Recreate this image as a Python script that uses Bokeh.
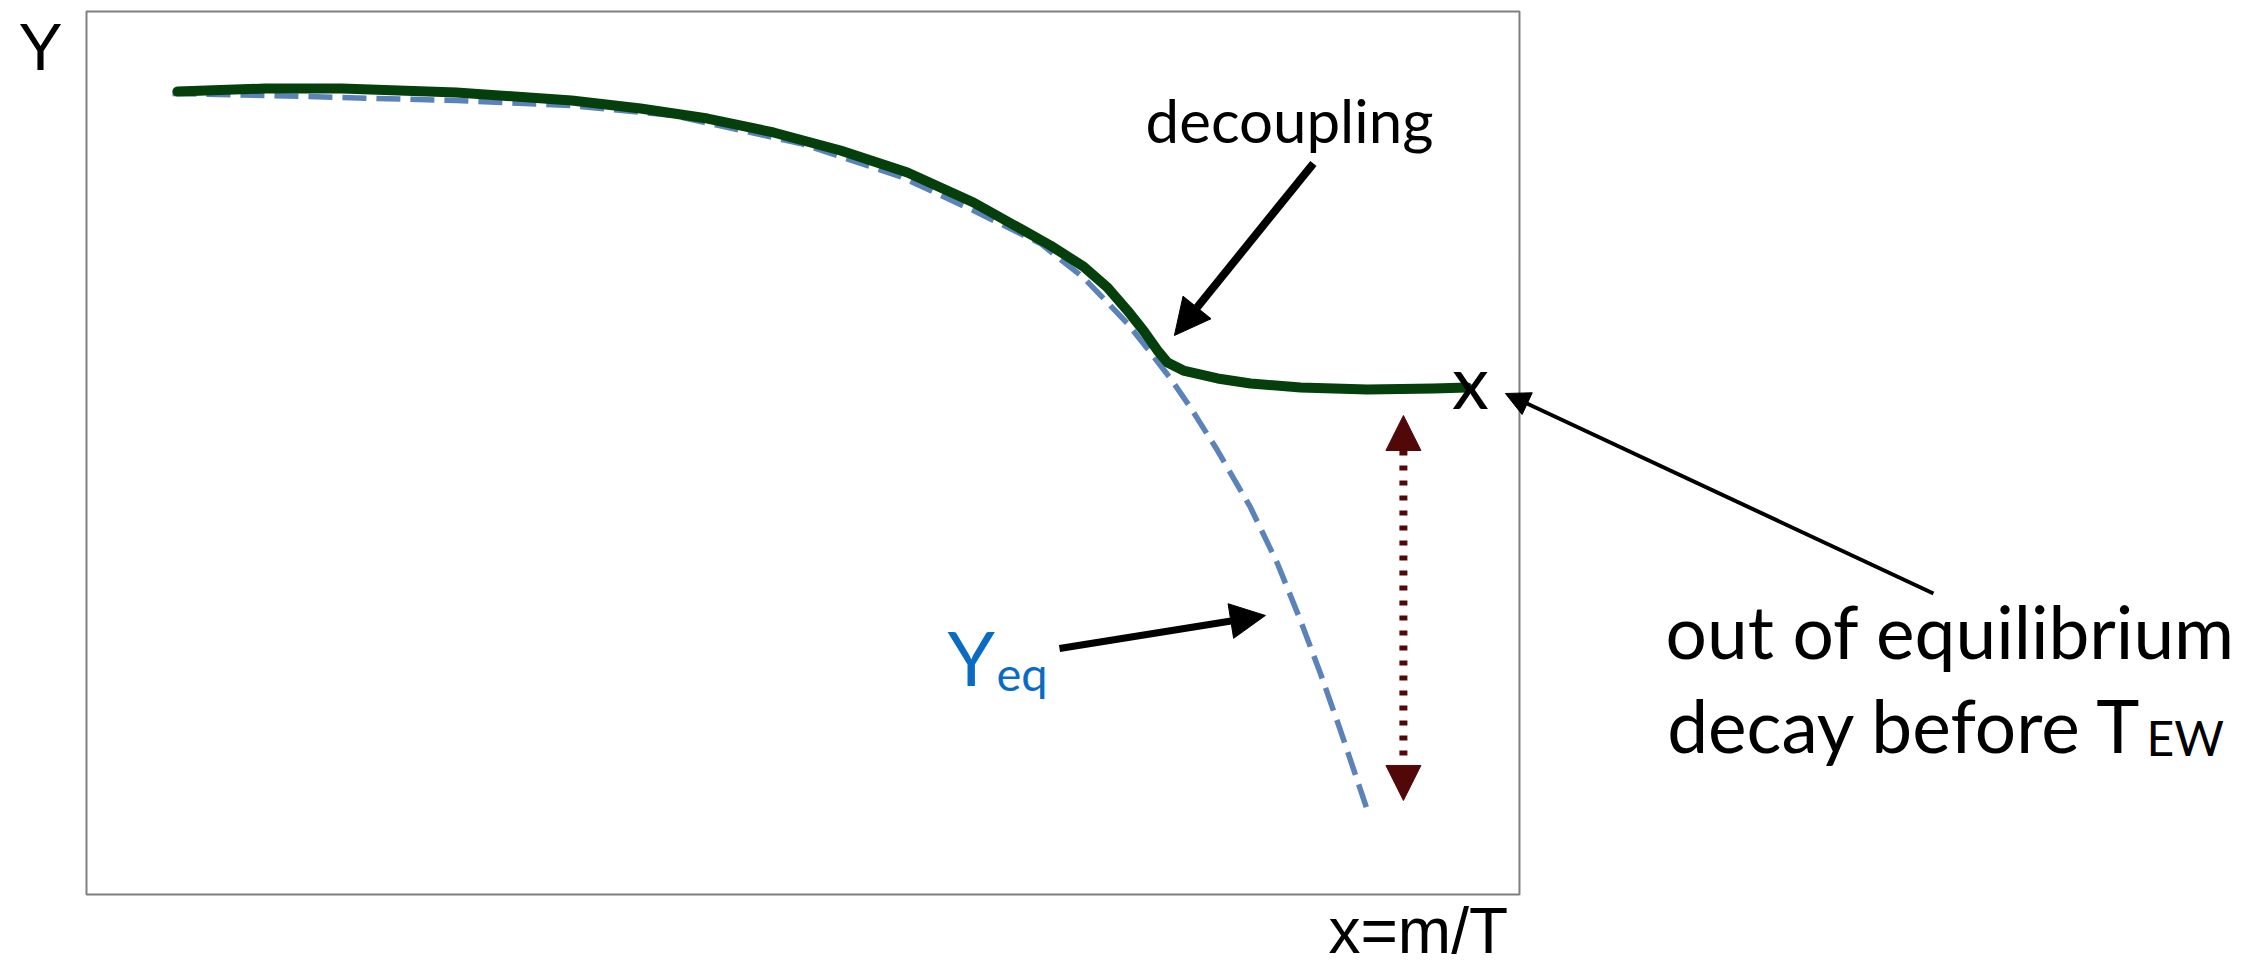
from bokeh.plotting import figure
from bokeh.models import Range1d, Arrow, NormalHead
from bokeh.core.properties import value
from bokeh.embed import file_html
from bokeh.resources import INLINE

# ---- data (schematic units: plot box spans 0..10 in both directions) ----
y_x = [0.635, 1.249, 1.779, 2.582, 3.385, 3.866, 4.334, 4.794, 5.262, 5.729, 6.190,
       6.539, 6.727, 6.957, 7.125, 7.264, 7.376, 7.474, 7.544, 7.655, 7.893, 8.123,
       8.472, 8.939, 9.400, 9.637]
y_vals = [9.094, 9.128, 9.128, 9.083, 8.992, 8.901, 8.788, 8.630, 8.426, 8.177, 7.837,
          7.520, 7.350, 7.112, 6.874, 6.614, 6.387, 6.161, 6.025, 5.934, 5.844, 5.787,
          5.742, 5.719, 5.730, 5.742]

yeq_x = [0.600, 1.249, 2.582, 3.385, 4.096, 4.983, 5.680, 6.190, 6.657, 6.957, 7.264,
         7.425, 7.565, 7.704, 7.893, 8.123, 8.311, 8.472, 8.611, 8.751, 8.939]
yeq_vals = [9.071, 9.049, 8.992, 8.935, 8.822, 8.505, 8.131, 7.746, 7.373, 6.988, 6.467,
            6.138, 5.844, 5.515, 5.028, 4.383, 3.749, 3.103, 2.503, 1.857, 0.951]

gap_x = 9.190
gap_top = 5.425
gap_bottom = 1.065

GREEN = "#053f0b"
BLUE = "#5b82b9"
DARKRED = "#520808"
TEXTBLUE = "#0a6bc5"
HUMANIST = "Lato"
ARIAL = "Liberation Sans"

p = figure(width=2268, height=968, output_backend="svg", toolbar_location=None,
           x_range=Range1d(-0.6001, 15.227), y_range=Range1d(-0.8381, 10.1246),
           x_axis_location=None, y_axis_location=None, min_border=0,
           outline_line_color=None, background_fill_color="white",
           border_fill_color="white")
p.grid.visible = False

# plot box
p.quad(left=[0], right=[10], bottom=[0], top=[10], fill_color=None,
       line_color="#7f7f7f", line_width=2)

# curves
p.line(yeq_x, yeq_vals, line_color=BLUE, line_width=5.5, line_dash="24 10")
p.line(y_x, y_vals, line_color=GREEN, line_width=10, line_cap="round", line_join="round")


def txt(x, y, s, font, size, align="left", color="black"):
    # baseline correction for the renderer's alphabetic baseline placement
    p.text(x=[x], y=[y], text=[s], text_font=value(font), text_font_size=f"{size}px",
           text_align=align, text_baseline="alphabetic", text_color=color,
           y_offset=-0.37 * size)


# end marker "x"
txt(9.658, 5.515, "x", HUMANIST, 74, "center")

# dotted double arrow
p.add_layout(Arrow(x_start=gap_x, y_start=gap_bottom, x_end=gap_x, y_end=gap_top,
                   line_color=DARKRED, line_width=8, line_dash="5 10",
                   start=NormalHead(size=35, fill_color=DARKRED, line_color=DARKRED),
                   end=NormalHead(size=35, fill_color=DARKRED, line_color=DARKRED)))

# annotation arrows
p.add_layout(Arrow(x_start=8.562, y_start=8.279, x_end=7.592, y_end=6.331,
                   line_color="black", line_width=8,
                   end=NormalHead(size=36, fill_color="black", line_color="black")))
p.add_layout(Arrow(x_start=6.790, y_start=2.786, x_end=8.227, y_end=3.160,
                   line_color="black", line_width=7,
                   end=NormalHead(size=35, fill_color="black", line_color="black")))
p.add_layout(Arrow(x_start=12.889, y_start=3.409, x_end=9.902, y_end=5.674,
                   line_color="black", line_width=4,
                   end=NormalHead(size=24, fill_color="black", line_color="black")))

# texts
txt(-0.474, 9.320, "Y", ARIAL, 66)
txt(8.667, -0.679, "x=m/T", ARIAL, 64)
txt(8.395, 8.516, "decoupling", HUMANIST, 60, "center")
txt(13.008, 2.673, "out of equilibrium", HUMANIST, 73, "center")
txt(14.354, 1.619, "decay before T", HUMANIST, 73, "right")
txt(14.375, 1.574, "EW", HUMANIST, 48)
txt(6.008, 2.378, "Y", HUMANIST, 76, color=TEXTBLUE)
txt(6.350, 2.310, "eq", HUMANIST, 47, color=TEXTBLUE)

open("out.html", "w").write(file_html(p, INLINE))
